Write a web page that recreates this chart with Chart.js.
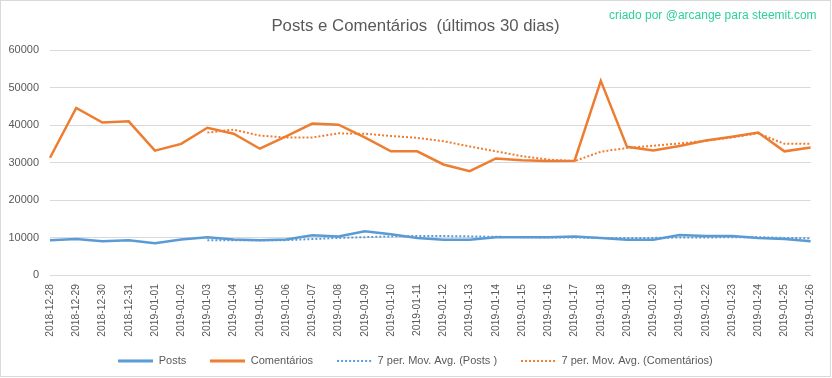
<!DOCTYPE html>
<html>
<head>
<meta charset="utf-8">
<script src="https://cdn.jsdelivr.net/npm/chart.js@4/dist/chart.umd.min.js"></script>
<style>
  html, body { margin: 0; padding: 0; background: #ffffff; }
  #wrap { position: relative; width: 832px; height: 378px; }
  #credit { position: absolute; left: 609px; top: 8px; font-family: "Liberation Sans", Arial, sans-serif; font-size: 12px; color: #2fcf9f; white-space: nowrap; }
</style>
</head>
<body>
<div id="wrap">
  <canvas id="c" width="832" height="378"></canvas>
  <div id="credit">criado por @arcange para steemit.com</div>
</div>
<script>
const categories = ["2018-12-28","2018-12-29","2018-12-30","2018-12-31","2019-01-01","2019-01-02","2019-01-03","2019-01-04","2019-01-05","2019-01-06","2019-01-07","2019-01-08","2019-01-09","2019-01-10","2019-01-11","2019-01-12","2019-01-13","2019-01-14","2019-01-15","2019-01-16","2019-01-17","2019-01-18","2019-01-19","2019-01-20","2019-01-21","2019-01-22","2019-01-23","2019-01-24","2019-01-25","2019-01-26"];
const posts = [9300,9600,9000,9300,8500,9500,10100,9500,9300,9500,10600,10300,11700,10900,9900,9400,9400,10100,10100,10100,10300,9900,9400,9400,10700,10400,10400,9900,9600,9000];
const comentarios = [31300,44600,40700,41000,33200,35000,39300,37700,33700,37000,40400,40100,36700,33000,33000,29500,27700,31100,30600,30400,30500,51800,34200,33200,34400,35900,36900,38000,33000,34000];
const mavgPosts = [null,null,null,null,null,null,9300,9300,9300,9300,9600,9900,10100,10300,10400,10400,10300,10200,10100,10000,10000,9900,9900,9900,10000,10000,10100,10100,9900,9800];
const mavgComentarios = [null,null,null,null,null,null,38000,38800,37200,36700,36700,37800,37700,37100,36600,35700,34300,33000,31700,30800,30400,32900,33900,34500,35100,35800,36700,37800,35000,35000];
const yTicks = [0,10000,20000,30000,40000,50000,60000];

const BLUE = "#5B9BD5", ORANGE = "#ED7D31", TXT = "#595959", GRID = "#d9d9d9";
const FONT = "'Liberation Sans', Arial, sans-serif";

function lineIcon(color, dotted) {
  const c = document.createElement("canvas");
  c.width = 35; c.height = 4;
  const g = c.getContext("2d");
  g.strokeStyle = color;
  g.lineWidth = dotted ? 2 : 3;
  if (dotted) g.setLineDash([2, 2]);
  g.beginPath(); g.moveTo(0, 2); g.lineTo(35, 2); g.stroke();
  return c;
}

const framePlugin = {
  id: "frame",
  afterLayout(chart) {
    // centre title and legend over the whole frame (Excel-style), not only over the padded area
    if (chart.titleBlock) { chart.titleBlock.left += 14; }
    if (chart.legend) {
      chart.legend.left += 14;
      chart.legend.top -= 5.6;
      chart.legend.bottom -= 5.6;
    }
  },
  beforeDraw(chart) {
    const ctx = chart.ctx;
    ctx.save();
    ctx.fillStyle = "#ffffff";
    ctx.fillRect(0, 0, chart.width, chart.height);
    ctx.strokeStyle = GRID;
    ctx.lineWidth = 1;
    ctx.strokeRect(0.5, 0.5, 830, 376);
    ctx.restore();
  }
};

new Chart(document.getElementById("c"), {
  type: "line",
  data: {
    labels: categories,
    datasets: [
      { label: "Posts", data: posts, borderColor: BLUE, backgroundColor: BLUE, borderWidth: 2.5, pointRadius: 0, pointStyle: lineIcon(BLUE, false), tension: 0, order: 4 },
      { label: "Comentários", data: comentarios, borderColor: ORANGE, backgroundColor: ORANGE, borderWidth: 2.5, pointRadius: 0, pointStyle: lineIcon(ORANGE, false), tension: 0, order: 3 },
      { label: "7 per. Mov. Avg. (Posts )", data: mavgPosts, borderColor: BLUE, backgroundColor: BLUE, borderWidth: 2, borderDash: [2, 2], pointRadius: 0, pointStyle: lineIcon(BLUE, true), tension: 0, order: 2 },
      { label: "7 per. Mov. Avg. (Comentários)", data: mavgComentarios, borderColor: ORANGE, backgroundColor: ORANGE, borderWidth: 2, borderDash: [2, 2], pointRadius: 0, pointStyle: lineIcon(ORANGE, true), tension: 0, order: 1 }
    ]
  },
  options: {
    responsive: false,
    animation: false,
    events: [],
    layout: { padding: { left: 0, right: 15, top: 0, bottom: 0 } },
    plugins: {
      title: {
        display: true,
        text: "Posts e Comentários  (últimos 30 dias)",
        color: TXT,
        font: { family: FONT, size: 16.8, weight: "normal" },
        padding: { top: 16, bottom: 14 }
      },
      legend: {
        position: "bottom",
        maxHeight: 41,
        labels: {
          usePointStyle: true,
          pointStyleWidth: 35,
          boxHeight: 2,
          color: TXT,
          font: { family: FONT, size: 11 },
          padding: 24,
          sort: (a, b) => a.datasetIndex - b.datasetIndex
        }
      },
      tooltip: { enabled: false }
    },
    scales: {
      x: {
        afterFit(scale) { scale.height = 62; },
        grid: { display: false, drawTicks: false },
        border: { display: false },
        ticks: { color: TXT, font: { family: FONT, size: 10.3 }, maxRotation: 90, minRotation: 90, padding: 9, autoSkip: false }
      },
      y: {
        min: 0, max: 60000,
        afterFit(scale) { scale.width = 50; },
        afterBuildTicks(scale) { scale.ticks = yTicks.map(v => ({ value: v })); },
        grid: { color: GRID, lineWidth: 1, drawTicks: false },
        border: { display: false },
        ticks: { color: TXT, font: { family: FONT, size: 11 }, padding: 11, callback: v => String(v) }
      }
    }
  },
  plugins: [framePlugin]
});
</script>
</body>
</html>
